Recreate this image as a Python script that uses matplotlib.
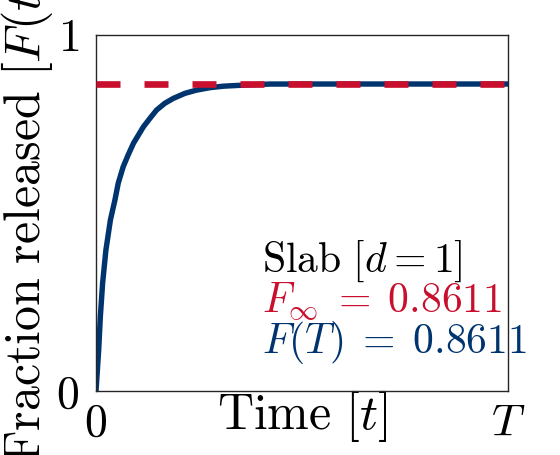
import numpy as np
import matplotlib
matplotlib.use("Agg")
import matplotlib.pyplot as plt

plt.rcParams['mathtext.fontset'] = 'cm'
plt.rcParams['font.family'] = 'serif'
plt.rcParams['font.serif'] = ['cmr10', 'DejaVu Serif']
plt.rcParams['axes.formatter.use_mathtext'] = True

# valores (tempo normalizado por T)
t_vals = [0.0, 0.0065, 0.0105, 0.016, 0.024, 0.035, 0.046, 0.054, 0.066,
          0.078, 0.091, 0.103, 0.115, 0.131, 0.147, 0.167, 0.188, 0.216,
          0.244, 0.277, 0.309, 0.358, 0.422, 0.6, 0.8, 1.0]
F_vals = [0.0, 0.115, 0.208, 0.302, 0.395, 0.480, 0.536, 0.583, 0.629,
          0.662, 0.695, 0.718, 0.741, 0.765, 0.788, 0.807, 0.821, 0.835,
          0.844, 0.851, 0.855, 0.858, 0.861, 0.8611, 0.8611, 0.8611]
F_inf = 0.8611
F_T = 0.8611
d_val = 1

x_ticks = [0, 1]
x_ticklabels = ['$0$', '$T$']
y_ticks = [0, 1]
y_ticklabels = ['$0$', '$1$']

azul = '#00346F'
vermelho = '#C8102E'

fig = plt.figure(figsize=(5.6, 4.55), dpi=100)
ax = fig.add_axes([96/560, 1 - 391/455, 412/560, 356.5/455])

ax.plot(t_vals, F_vals, color=azul, lw=3.9, solid_joinstyle='round', zorder=2)
ax.plot([0, 1], [F_inf, F_inf], color=vermelho, lw=4.8, dashes=(3.6, 3.6), zorder=3)

ax.set_xlim(0, 1)
ax.set_ylim(0, 1)
ax.set_xticks(x_ticks)
ax.set_xticklabels(x_ticklabels)
ax.set_yticks(y_ticks)
ax.set_yticklabels(y_ticklabels)
ax.tick_params(length=0, labelsize=33)
ax.tick_params(axis='x', pad=9)
ax.tick_params(axis='y', pad=12)
for s in ax.spines.values():
    s.set_color('#262626')
    s.set_linewidth(1.0)

ax.set_xlabel(r'$\mathrm{Time}\ [t]$', fontsize=36, labelpad=-41)
ax.set_ylabel(r'$\mathrm{Fraction\ released}\ [F(t)]$', fontsize=36)
ax.yaxis.set_label_coords(-0.1, 0.5)

ax.text(0.403, 0.365, r'$\mathrm{Slab}\ [d=%d]$' % d_val, fontsize=30,
        color='black', ha='left', va='center')
ax.text(0.403, 0.250, r'$F_\infty\;=\;%.4f$' % F_inf, fontsize=30,
        color=vermelho, ha='left', va='center')
ax.text(0.403, 0.135, r'$F(T)\;=\;%.4f$' % F_T, fontsize=30,
        color=azul, ha='left', va='center')

fig.savefig('out.png', dpi=100)
